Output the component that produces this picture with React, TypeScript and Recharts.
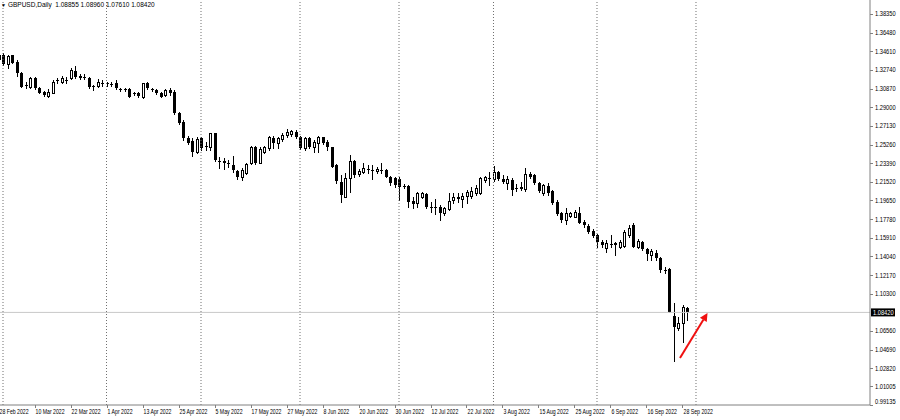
import React from 'react';
import { ComposedChart, Bar, XAxis, YAxis, ReferenceLine } from 'recharts';

// Daily GBPUSD candles, 28 Feb 2022 (index 0) to 29 Sep 2022 (index 153)
const openP = [
  1.3380, 1.3424, 1.3334, 1.3421, 1.3357, 1.3243, 1.3123, 1.3103, 1.3193, 1.3093,
  1.3053, 1.3013, 1.3043, 1.3173, 1.3153, 1.3178, 1.3193, 1.3263, 1.3213, 1.3206,
  1.3193, 1.3113, 1.3113, 1.3146, 1.3140, 1.3133, 1.3143, 1.3086, 1.3080, 1.3083,
  1.3046, 1.3043, 1.3003, 1.3143, 1.3080, 1.3073, 1.3043, 1.3023, 1.3073, 1.3056,
  1.2845, 1.2755, 1.2591, 1.2564, 1.2454, 1.2591, 1.2508, 1.2501, 1.2641, 1.2364,
  1.2364, 1.2341, 1.2320, 1.2263, 1.2197, 1.2237, 1.2338, 1.2504, 1.2344, 1.2454,
  1.2488, 1.2594, 1.2544, 1.2578, 1.2621, 1.2631, 1.2654, 1.2604, 1.2488, 1.2591,
  1.2504, 1.2538, 1.2598, 1.2554, 1.2498, 1.2320, 1.2153, 1.2003, 1.2187, 1.2364,
  1.2230, 1.2253, 1.2280, 1.2273, 1.2263, 1.2273, 1.2270, 1.2197, 1.2187, 1.2180,
  1.2107, 1.2110, 1.1962, 1.1936, 1.2003, 1.2030, 1.1902, 1.1902, 1.1902, 1.1842,
  1.1876, 1.1969, 1.2003, 1.1976, 1.2010, 1.2010, 1.2037, 1.2037, 1.2170, 1.2190,
  1.2177, 1.2253, 1.2177, 1.2140, 1.2170, 1.2090, 1.2090, 1.2077, 1.2230, 1.2220,
  1.2137, 1.2037, 1.2110, 1.2063, 1.1952, 1.1836, 1.1769, 1.1809, 1.1802, 1.1842,
  1.1752, 1.1712, 1.1662, 1.1618, 1.1551, 1.1485, 1.1531, 1.1541, 1.1501, 1.1508,
  1.1618, 1.1719, 1.1495, 1.1551, 1.1475, 1.1418, 1.1441, 1.1384, 1.1267, 1.1274,
  1.0809, 1.0683, 1.0739, 1.08855,
];
const highP = [
  1.3445, 1.3444, 1.3424, 1.3427, 1.3374, 1.3253, 1.3156, 1.3206, 1.3200, 1.3106,
  1.3066, 1.3080, 1.3173, 1.3193, 1.3213, 1.3206, 1.3290, 1.3313, 1.3230, 1.3230,
  1.3200, 1.3123, 1.3180, 1.3173, 1.3156, 1.3153, 1.3173, 1.3096, 1.3096, 1.3090,
  1.3056, 1.3053, 1.3146, 1.3156, 1.3096, 1.3080, 1.3050, 1.3080, 1.3090, 1.3073,
  1.2855, 1.2772, 1.2611, 1.2591, 1.2604, 1.2604, 1.2554, 1.2644, 1.2644, 1.2398,
  1.2388, 1.2371, 1.2411, 1.2270, 1.2287, 1.2337, 1.2511, 1.2511, 1.2498, 1.2511,
  1.2611, 1.2611, 1.2604, 1.2638, 1.2678, 1.2671, 1.2671, 1.2611, 1.2604, 1.2598,
  1.2571, 1.2611, 1.2604, 1.2571, 1.2504, 1.2331, 1.2220, 1.2240, 1.2421, 1.2371,
  1.2280, 1.2341, 1.2320, 1.2320, 1.2303, 1.2341, 1.2277, 1.2210, 1.2197, 1.2200,
  1.2130, 1.2120, 1.2003, 1.2053, 1.2053, 1.2037, 1.1952, 1.1976, 1.1919, 1.1902,
  1.2043, 1.2036, 1.2036, 1.2036, 1.2070, 1.2103, 1.2120, 1.2203, 1.2210, 1.2253,
  1.2310, 1.2263, 1.2220, 1.2210, 1.2195, 1.2130, 1.2153, 1.2287, 1.2253, 1.2230,
  1.2153, 1.2130, 1.2143, 1.2070, 1.1969, 1.1852, 1.1886, 1.1852, 1.1869, 1.1902,
  1.1769, 1.1729, 1.1675, 1.1628, 1.1568, 1.1568, 1.1618, 1.1551, 1.1568, 1.1669,
  1.1719, 1.1736, 1.1575, 1.1561, 1.1485, 1.1475, 1.1468, 1.1401, 1.1300, 1.1284,
  1.0933, 1.0799, 1.0916, 1.0896,
];
const lowP = [
  1.3355, 1.3323, 1.3293, 1.3340, 1.3213, 1.3098, 1.3090, 1.3090, 1.3083, 1.3040,
  1.3013, 1.3006, 1.3040, 1.3138, 1.3140, 1.3140, 1.3180, 1.3196, 1.3180, 1.3180,
  1.3090, 1.3073, 1.3106, 1.3113, 1.3113, 1.3113, 1.3083, 1.3063, 1.3063, 1.2999,
  1.3026, 1.2999, 1.2989, 1.3080, 1.3066, 1.3036, 1.2999, 1.3013, 1.3023, 1.2832,
  1.2732, 1.2571, 1.2531, 1.2411, 1.2444, 1.2471, 1.2471, 1.2471, 1.2364, 1.2290,
  1.2280, 1.2303, 1.2253, 1.2180, 1.2170, 1.2230, 1.2331, 1.2331, 1.2338, 1.2444,
  1.2471, 1.2488, 1.2488, 1.2564, 1.2604, 1.2614, 1.2588, 1.2478, 1.2471, 1.2488,
  1.2454, 1.2454, 1.2531, 1.2471, 1.2297, 1.2140, 1.1952, 1.2000, 1.2053, 1.2203,
  1.2210, 1.2240, 1.2240, 1.2180, 1.2237, 1.2240, 1.2197, 1.2120, 1.2103, 1.1969,
  1.2087, 1.1902, 1.1886, 1.1902, 1.1986, 1.1886, 1.1852, 1.1829, 1.1769, 1.1819,
  1.1869, 1.1936, 1.1952, 1.1902, 1.1942, 1.1986, 1.2020, 1.2030, 1.2153, 1.2120,
  1.2163, 1.2170, 1.2137, 1.2080, 1.2020, 1.2063, 1.2070, 1.2063, 1.2187, 1.2130,
  1.2053, 1.2020, 1.2020, 1.1929, 1.1819, 1.1752, 1.1729, 1.1796, 1.1796, 1.1736,
  1.1702, 1.1635, 1.1595, 1.1501, 1.1501, 1.1451, 1.1498, 1.1418, 1.1485, 1.1495,
  1.1601, 1.1495, 1.1485, 1.1468, 1.1368, 1.1368, 1.1368, 1.1250, 1.1234, 1.0846,
  1.0355, 1.0665, 1.0548, 1.0761,
];
const closeP = [
  1.3420, 1.3334, 1.3414, 1.3346, 1.3240, 1.3103, 1.3118, 1.3193, 1.3093, 1.3043,
  1.3023, 1.3053, 1.3153, 1.3163, 1.3193, 1.3170, 1.3273, 1.3203, 1.3193, 1.3200,
  1.3103, 1.3108, 1.3153, 1.3140, 1.3133, 1.3128, 1.3093, 1.3080, 1.3076, 1.3003,
  1.3040, 1.3013, 1.3143, 1.3093, 1.3076, 1.3043, 1.3003, 1.3073, 1.3043, 1.2839,
  1.2739, 1.2588, 1.2541, 1.2454, 1.2581, 1.2491, 1.2501, 1.2641, 1.2371, 1.2357,
  1.2338, 1.2334, 1.2270, 1.2203, 1.2270, 1.2331, 1.2504, 1.2338, 1.2481, 1.2501,
  1.2604, 1.2538, 1.2591, 1.2621, 1.2654, 1.2661, 1.2604, 1.2488, 1.2591, 1.2504,
  1.2554, 1.2604, 1.2538, 1.2504, 1.2303, 1.2160, 1.2020, 1.2187, 1.2364, 1.2220,
  1.2263, 1.2287, 1.2273, 1.2267, 1.2277, 1.2267, 1.2203, 1.2137, 1.2120, 1.2103,
  1.2100, 1.1952, 1.1929, 1.2037, 1.2043, 1.1896, 1.1892, 1.1886, 1.1836, 1.1886,
  1.1962, 1.1996, 1.1976, 1.2010, 1.2053, 1.2063, 1.2087, 1.2187, 1.2197, 1.2183,
  1.2253, 1.2177, 1.2153, 1.2177, 1.2070, 1.2083, 1.2100, 1.2230, 1.2203, 1.2137,
  1.2063, 1.2120, 1.2037, 1.1936, 1.1829, 1.1769, 1.1836, 1.1842, 1.1852, 1.1742,
  1.1719, 1.1652, 1.1608, 1.1551, 1.1518, 1.1535, 1.1521, 1.1518, 1.1551, 1.1652,
  1.1686, 1.1501, 1.1561, 1.1475, 1.1428, 1.1461, 1.1384, 1.1267, 1.1260, 1.0849,
  1.0699, 1.0739, 1.0899, 1.0842,
];

const xTickIndex = [0, 8, 16, 24, 32, 40, 48, 56, 64, 72, 80, 88, 96, 104, 112, 120, 128, 136, 144, 152];
const xTickLabels = [
  '28 Feb 2022', '10 Mar 2022', '22 Mar 2022', '1 Apr 2022', '13 Apr 2022', '25 Apr 2022',
  '5 May 2022', '17 May 2022', '27 May 2022', '8 Jun 2022', '20 Jun 2022', '30 Jun 2022',
  '12 Jul 2022', '22 Jul 2022', '3 Aug 2022', '15 Aug 2022', '25 Aug 2022', '6 Sep 2022',
  '16 Sep 2022', '28 Sep 2022',
];
// month separators (index of first bar of the month)
const monthStarts = [1, 24, 45, 67, 89, 110, 133, 155];
const yTicks = [
  1.3835, 1.3648, 1.3461, 1.3274, 1.3087, 1.29, 1.2713, 1.2526, 1.2339, 1.2152, 1.1965,
  1.1778, 1.1591, 1.1404, 1.1217, 1.103, 1.0842, 1.0656, 1.0469, 1.0282, 1.01005, 0.99135,
];
const lastPrice = 1.0842;
const headerParts = ['GBPUSD,Daily', '1.08855', '1.08960', '1.07610', '1.08420'];
const arrowPoints = [
  { x: 151.44, y: 1.0385 },
  { x: 157.56, y: 1.0836 },
];

const data = openP.map((o, i) => ({ i, o, h: highP[i], l: lowP[i], c: closeP[i] }));

const FONT = "'Liberation Sans', Arial, sans-serif";

const Candle = (props: any) => {
  const { x, y, width, height, payload } = props;
  if (payload == null || height == null) return null;
  const { o, h, l, c } = payload;
  const cx = Math.round(x + width / 2);
  const toY = (v: number) => y + ((h - v) / (h - l)) * height;
  const yH = Math.round(toY(h));
  const yL = Math.round(toY(l));
  const yO = toY(o);
  const yC = toY(c);
  const top = Math.round(Math.min(yO, yC));
  const bot = Math.round(Math.max(yO, yC));
  const bull = c > o;
  return (
    <g>
      <line x1={cx + 0.5} x2={cx + 0.5} y1={yH} y2={yL + 1} stroke="#000" strokeWidth={1} />
      {bull ? (
        <rect x={cx - 0.5} y={top + 0.5} width={2} height={Math.max(bot - top, 1)} fill="#fff" stroke="#000" strokeWidth={1} />
      ) : (
        <rect x={cx - 1} y={top} width={3} height={Math.max(bot - top, 1)} fill="#000" />
      )}
    </g>
  );
};

const XTick = (props: any) => {
  const { x, y, payload } = props;
  const k = xTickIndex.indexOf(payload.value);
  const label = k >= 0 ? xTickLabels[k] : '';
  return (
    <g>
      <line x1={Math.round(x) + 0.5} x2={Math.round(x) + 0.5} y1={y} y2={y + 3} stroke="#808080" />
      <text
        transform={`translate(${x + 1},${y + 8.5}) scale(0.8,1)`}
        fontSize={6.5}
        fontFamily={FONT}
        fill="#000"
        textAnchor="start"
      >
        {label}
      </text>
    </g>
  );
};

const YTick = (props: any) => {
  const { x, y, payload } = props;
  const v = payload.value as number;
  const label = v.toFixed(5);
  const last = v === yTicks[yTicks.length - 1];
  const ty = last ? y - 3 : y;
  if (v === lastPrice) {
    return (
      <g>
        <rect x={x + 1} y={y - 4} width={24} height={8} fill="#000" />
        <text transform={`translate(${x + 3},${y + 2.5}) scale(0.88,1)`} fontSize={6.5} fontFamily={FONT} fill="#fff">
          {label}
        </text>
      </g>
    );
  }
  return (
    <g>
      <line x1={x} x2={x + 3} y1={Math.round(y) + 0.5} y2={Math.round(y) + 0.5} stroke="#808080" />
      <text transform={`translate(${x + 5},${ty + 2.5}) scale(0.88,1)`} fontSize={6.5} fontFamily={FONT} fill="#000">
        {label}
      </text>
    </g>
  );
};

const Arrow = (p: any) => {
  const { x1, y1, x2, y2 } = p;
  if (x1 == null) return null;
  const ang = Math.atan2(y2 - y1, x2 - x1);
  const len = 8;
  const w = 4;
  const bx = x2 - len * Math.cos(ang);
  const by = y2 - len * Math.sin(ang);
  const px = -Math.sin(ang) * w;
  const py = Math.cos(ang) * w;
  return (
    <g>
      <line x1={x1} y1={y1} x2={bx} y2={by} stroke="#f01010" strokeWidth={2} />
      <polygon points={`${x2},${y2} ${bx + px},${by + py} ${bx - px},${by - py}`} fill="#f01010" />
    </g>
  );
};

export default function App() {
  return (
    <div style={{ position: 'fixed', left: 0, top: 0, width: 900, height: 420, background: '#fff' }}>
      <ComposedChart width={900} height={420} data={data} margin={{ top: 0, right: 0, bottom: 0, left: 0 }}>
        <XAxis
          type="number"
          dataKey="i"
          domain={[0.3333, 193.6667]}
          allowDataOverflow
          ticks={xTickIndex}
          interval={0}
          tick={<XTick />}
          tickLine={false}
          tickSize={0}
          tickMargin={0}
          height={15}
          axisLine={{ stroke: '#808080' }}
        />
        <YAxis
          orientation="right"
          type="number"
          domain={[0.99133, 1.39754]}
          allowDataOverflow
          ticks={yTicks}
          interval={0}
          tick={<YTick />}
          tickLine={false}
          tickSize={0}
          tickMargin={0}
          width={30}
          axisLine={{ stroke: '#808080' }}
        />
        {monthStarts.map((m) => (
          <ReferenceLine key={m} x={m} stroke="#707070" strokeDasharray="1 2" ifOverflow="visible" />
        ))}
        <ReferenceLine y={lastPrice} stroke="#c8c8c8" />
        <Bar
          dataKey={(d: any) => [d.l, d.h]}
          barSize={3}
          shape={<Candle />}
          isAnimationActive={false}
        />
        <ReferenceLine segment={arrowPoints} shape={<Arrow />} ifOverflow="visible" />
      </ComposedChart>
      <div
        style={{
          position: 'absolute',
          left: 1,
          top: 1,
          fontFamily: FONT,
          fontSize: 6.5,
          lineHeight: '8px',
          color: '#000',
          whiteSpace: 'pre',
        }}
      >
        <span style={{ fontSize: 5, marginRight: 2 }}>▼</span>
        {headerParts[0]}{'  '}{headerParts.slice(1).join(' ')}
      </div>
    </div>
  );
}
